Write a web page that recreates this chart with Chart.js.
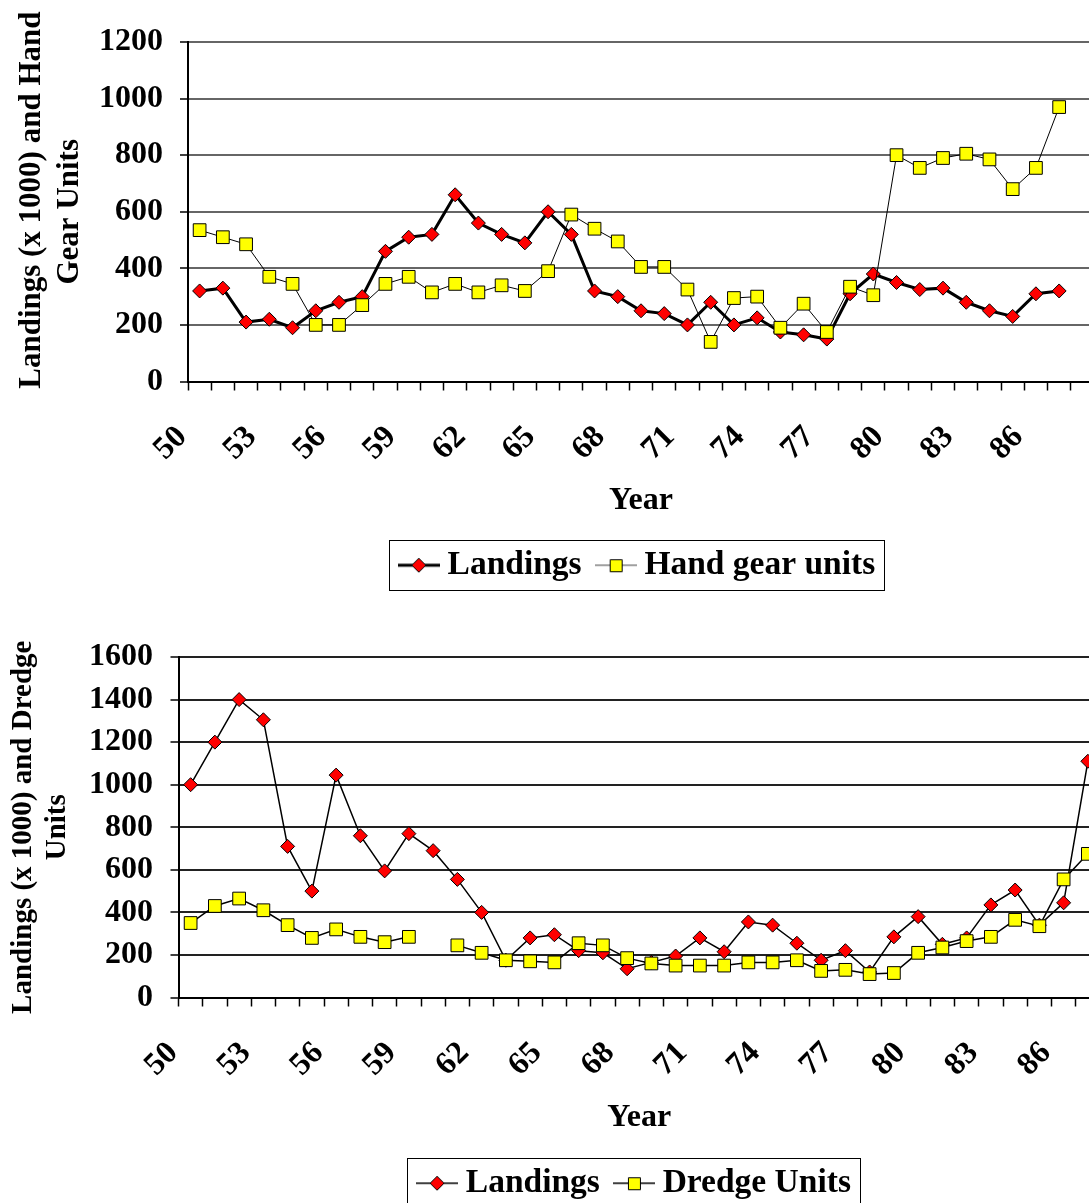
<!DOCTYPE html>
<html>
<head>
<meta charset="utf-8">
<script src="https://cdn.jsdelivr.net/npm/chart.js@4.4.1/dist/chart.umd.min.js"></script>
<style>
  html, body { margin: 0; padding: 0; background: #fff; width: 1089px; height: 1203px; overflow: hidden; }
  canvas { position: absolute; left: 0; }
  #top { top: 0; }
  #bottom { top: 605px; }
</style>
</head>
<body>
<canvas id="top" width="1282" height="605"></canvas>
<canvas id="bottom" width="1276" height="610"></canvas>
<script>
// years on the category axis (two digit)
const yearsTop = ['50','51','52','53','54','55','56','57','58','59','60','61','62','63','64','65','66','67','68','69',
  '70','71','72','73','74','75','76','77','78','79','80','81','82','83','84','85','86','87','88'];
const yearsBottom = ['50','51','52','53','54','55','56','57','58','59','60','61','62','63','64','65','66','67','68','69',
  '70','71','72','73','74','75','76','77','78','79','80','81','82','83','84','85','86','87'];

// top chart: landings (x 1000) and hand gear units
const landingsTop = [320,330,210,220,190,250,280,300,460,510,520,660,560,520,490,600,520,320,300,250,
  240,200,280,200,225,175,165,150,310,380,350,325,330,280,250,230,310,320];
const handGear = [535,510,485,370,345,200,200,270,345,370,315,345,315,340,320,390,590,540,495,405,
  405,325,140,295,300,190,275,175,335,305,800,755,790,805,785,680,755,970];

// bottom chart: landings (x 1000) and dredge units
const landingsBottom = [1000,1200,1400,1305,710,500,1045,760,595,770,690,555,400,175,280,295,220,210,135,165,
  195,280,215,355,340,255,175,220,120,285,380,250,280,435,505,340,445,1110];
const dredge = [350,430,465,410,340,280,320,285,260,285,null,245,210,175,170,165,255,245,185,160,
  150,150,150,165,165,175,125,130,110,115,210,235,265,285,365,335,555,675];

const yTicksTop = { min: 0, max: 1200, step: 200 };
const yTicksBottom = { min: 0, max: 1600, step: 200 };

const FONT = "'Liberation Serif', 'Times New Roman', serif";

// small legend picture: line with the marker in the middle
function legendIcon(lineW, lineColor, marker) {
  const c = document.createElement('canvas');
  c.width = 42; c.height = 20;
  const g = c.getContext('2d');
  g.strokeStyle = lineColor; g.lineWidth = lineW;
  g.beginPath(); g.moveTo(0, 10); g.lineTo(42, 10); g.stroke();
  g.lineWidth = 1; g.strokeStyle = '#000';
  g.beginPath();
  if (marker === 'diamond') {
    g.fillStyle = '#ff0000';
    g.moveTo(21, 3); g.lineTo(28, 10); g.lineTo(21, 17); g.lineTo(14, 10); g.closePath();
  } else {
    g.fillStyle = '#ffff00';
    g.rect(15.5, 4.5, 12, 12);
  }
  g.fill(); g.stroke();
  return c;
}

const legendFrame = {
  id: 'legendFrame',
  afterDraw(chart) {
    const hb = chart.legend.legendHitBoxes;
    if (!hb || !hb.length) return;
    const last = hb[hb.length - 1];
    const x1 = Math.round(hb[0].left - 18) + 0.5;
    const x2 = Math.round(last.left + last.width + 9) + 0.5;
    const yc = hb[0].top + hb[0].height / 2;
    const ctx = chart.ctx;
    ctx.save();
    ctx.strokeStyle = '#000';
    ctx.lineWidth = 1;
    ctx.strokeRect(x1, Math.round(yc - 25) + 0.5, x2 - x1, 50);
    ctx.restore();
  }
};

function makeChart(id, cfg) {
  const icons = cfg.icons;
  return new Chart(document.getElementById(id), {
    type: 'line',
    data: {
      labels: cfg.labels,
      datasets: [
        {
          label: 'Landings',
          data: cfg.landings,
          borderColor: '#000',
          borderWidth: cfg.landW,
          pointStyle: 'rectRot',
          pointRadius: 7,
          pointBackgroundColor: '#ff0000',
          pointBorderColor: '#000',
          pointBorderWidth: 1,
          tension: 0,
          order: 1
        },
        {
          label: cfg.unitsLabel,
          data: cfg.units,
          borderColor: '#000',
          borderWidth: cfg.unitsW,
          pointStyle: 'rect',
          pointRadius: 9,
          pointBackgroundColor: '#ffff00',
          pointBorderColor: '#000',
          pointBorderWidth: 1,
          tension: 0,
          spanGaps: false,
          order: 0
        }
      ]
    },
    options: {
      responsive: false,
      animation: false,
      devicePixelRatio: 1,
      layout: { padding: { top: cfg.padTop, left: 0, right: 0, bottom: cfg.padBottom } },
      plugins: {
        tooltip: { enabled: false },
        legend: {
          position: 'bottom',
          labels: {
            usePointStyle: true,
            pointStyleWidth: 24,
            padding: 22,
            color: '#000',
            font: { family: FONT, size: 33.5, weight: 'bold' },
            generateLabels: (chart) => chart.data.datasets.map((ds, i) => ({
              text: ds.label, pointStyle: icons[i], fillStyle: '#fff', strokeStyle: '#fff',
              lineWidth: 0, hidden: false, datasetIndex: i
            }))
          }
        }
      },
      scales: {
        x: {
          type: 'category',
          offset: true,
          afterFit: (s) => { s.height = cfg.xHeight; },
          grid: { display: true, drawOnChartArea: false, drawTicks: true, tickLength: 9, tickColor: '#000', tickWidth: 1.5, offset: true },
          border: { display: true, color: '#000', width: 2 },
          ticks: {
            autoSkip: false, minRotation: 45, maxRotation: 45, padding: 28, labelOffset: -17.5,
            color: '#000', font: { family: FONT, size: 32, weight: 'bold' },
            callback: (v, i) => (i % 3 === 0 ? cfg.labels[i] : '')
          },
          title: { display: true, text: 'Year', color: '#000', padding: { top: 0, bottom: cfg.yearPad },
            font: { family: FONT, size: 32, weight: 'bold' } }
        },
        y: {
          position: 'left',
          min: cfg.yt.min, max: cfg.yt.max,
          afterFit: (s) => { s.width = cfg.yWidth; },
          grid: { color: cfg.gridColor, lineWidth: 2, tickLength: 8, tickColor: '#000', tickWidth: 1.5 },
          border: { display: true, color: '#000', width: 2 },
          ticks: { stepSize: cfg.yt.step, padding: cfg.yTickPad, color: '#000',
            format: { useGrouping: false },
            font: { family: FONT, size: 32, weight: 'bold' } },
          title: { display: true, text: cfg.yTitle, color: '#000', padding: { top: cfg.yTitlePad, bottom: 0 },
            font: { family: FONT, size: cfg.yTitleSize, weight: 'bold', lineHeight: cfg.yTitleLH } }
        },
        spare: {
          position: 'right',
          display: true,
          afterFit: (s) => { s.width = cfg.rightSpace; },
          grid: { display: false },
          border: { display: false },
          ticks: { display: false }
        }
      }
    },
    plugins: [legendFrame]
  });
}

makeChart('top', {
  labels: yearsTop, landings: landingsTop, units: handGear, unitsLabel: 'Hand gear units',
  icons: [legendIcon(3, '#000', 'diamond'), legendIcon(1.5, '#808080', 'square')],
  landW: 3, unitsW: 1,
  yt: yTicksTop, padTop: 42, padBottom: 13, xHeight: 145, yearPad: 7,
  yWidth: 188, yTickPad: 17, rightSpace: 188, gridColor: '#666',
  yTitle: ['   Landings (x 1000) and Hand', 'Gear Units'], yTitleSize: 31, yTitleLH: 1.23, yTitlePad: 13
});

makeChart('bottom', {
  labels: yearsBottom, landings: landingsBottom, units: dredge, unitsLabel: 'Dredge Units',
  icons: [legendIcon(1.5, '#000', 'diamond'), legendIcon(1.5, '#000', 'square')],
  landW: 1.5, unitsW: 1.5,
  yt: yTicksBottom, padTop: 52, padBottom: 5, xHeight: 147, yearPad: 8,
  yWidth: 178.5, yTickPad: 17.5, rightSpace: 176, gridColor: '#222',
  yTitle: ['Landings (x 1000) and Dredge', 'Units'], yTitleSize: 29, yTitleLH: 1.17, yTitlePad: 7
});
</script>
</body>
</html>
